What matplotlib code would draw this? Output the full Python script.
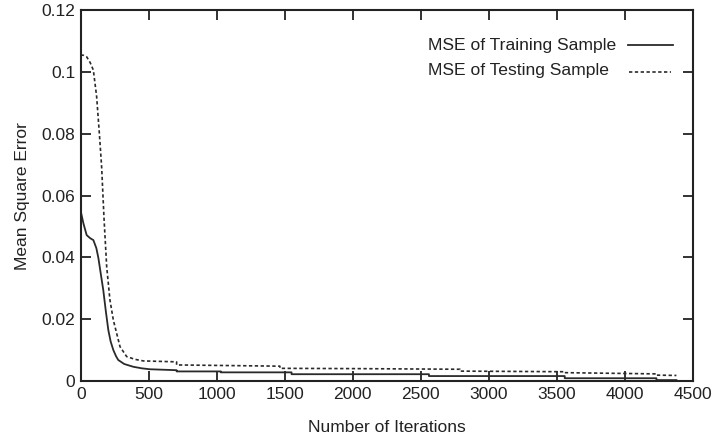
import numpy as np
import matplotlib.pyplot as plt

plt.rcParams['font.family'] = ['Liberation Sans', 'DejaVu Sans']

# training error curve (iterations, mse)
train_iter = [0, 20, 44, 70, 93, 115, 130, 150, 166, 185, 203, 220, 240, 260, 276, 320, 387, 450, 509,
              705, 705, 1030, 1030, 1550, 1550, 2560, 2560, 3558, 3558, 4232, 4232, 4379]
train_mse = [0.0550, 0.0510, 0.0472, 0.0462, 0.0456, 0.0430, 0.0398, 0.0340, 0.0294, 0.0225, 0.0165, 0.0128,
             0.0100, 0.0080, 0.0068, 0.0055, 0.0046, 0.0041, 0.0038,
             0.0035, 0.0031, 0.0031, 0.0028, 0.0028, 0.0022, 0.0022, 0.0016, 0.0016, 0.0009, 0.0009, 0.0003, 0.0003]

# testing error curve
test_iter = [0, 20, 44, 70, 93, 117, 137, 154, 171, 191, 215, 240, 289, 338, 400, 460,
             705, 705, 1464, 1464, 2052, 2788, 2788, 3558, 3558, 4232, 4232, 4379]
test_mse = [0.1055, 0.1054, 0.1049, 0.1030, 0.1006, 0.0921, 0.0802, 0.0692, 0.0530, 0.0370, 0.0262, 0.0197,
            0.0111, 0.0079, 0.0070, 0.0065,
            0.0062, 0.0052, 0.0048, 0.0041, 0.0040, 0.0038, 0.0032, 0.0030, 0.0027, 0.0023, 0.0019, 0.0018]

labels = ['MSE of Training Sample', 'MSE of Testing Sample']

fig = plt.figure(figsize=(7.11, 4.42), dpi=100)
ax = fig.add_axes([0.1135, 0.138, 0.861, 0.839])

solid_style = dict(color='#2a2a2a', lw=1.3)
dot_style = dict(color='#2a2a2a', lw=1.2, ls=(0, (2, 1.5)))

ax.plot(train_iter, train_mse, **solid_style)
ax.plot(test_iter, test_mse, **dot_style)

# legend: left aligned text, key line to the right
tr = ax.transAxes
ax.text(0.567, 0.906, labels[0], transform=tr, fontsize=12.6, va='center', ha='left', color='#222222')
ax.text(0.567, 0.838, labels[1], transform=tr, fontsize=12.6, va='center', ha='left', color='#222222')
ax.plot([0.894, 0.967], [0.905, 0.905], transform=tr, **solid_style)
ax.plot([0.896, 0.965], [0.833, 0.833], transform=tr, **dot_style)

ax.set_xlim(0, 4500)
ax.set_ylim(0, 0.12)
ax.set_xticks(np.arange(0, 4501, 500))
ax.set_yticks(np.arange(0, 0.121, 0.02))
ax.set_yticklabels(['0', '0.02', '0.04', '0.06', '0.08', '0.1', '0.12'])
ax.tick_params(direction='in', top=True, right=True, length=7, width=1.3, labelsize=12.5, pad=4, colors='#222222')
for s in ax.spines.values():
    s.set_linewidth(1.5)
    s.set_color('#222222')

ax.set_xlabel('Number of Iterations', fontsize=12.5, labelpad=13, color='#222222')
ax.set_ylabel('Mean Square Error', fontsize=12.5, labelpad=8, color='#222222')

fig.savefig('out.png', dpi=100)
